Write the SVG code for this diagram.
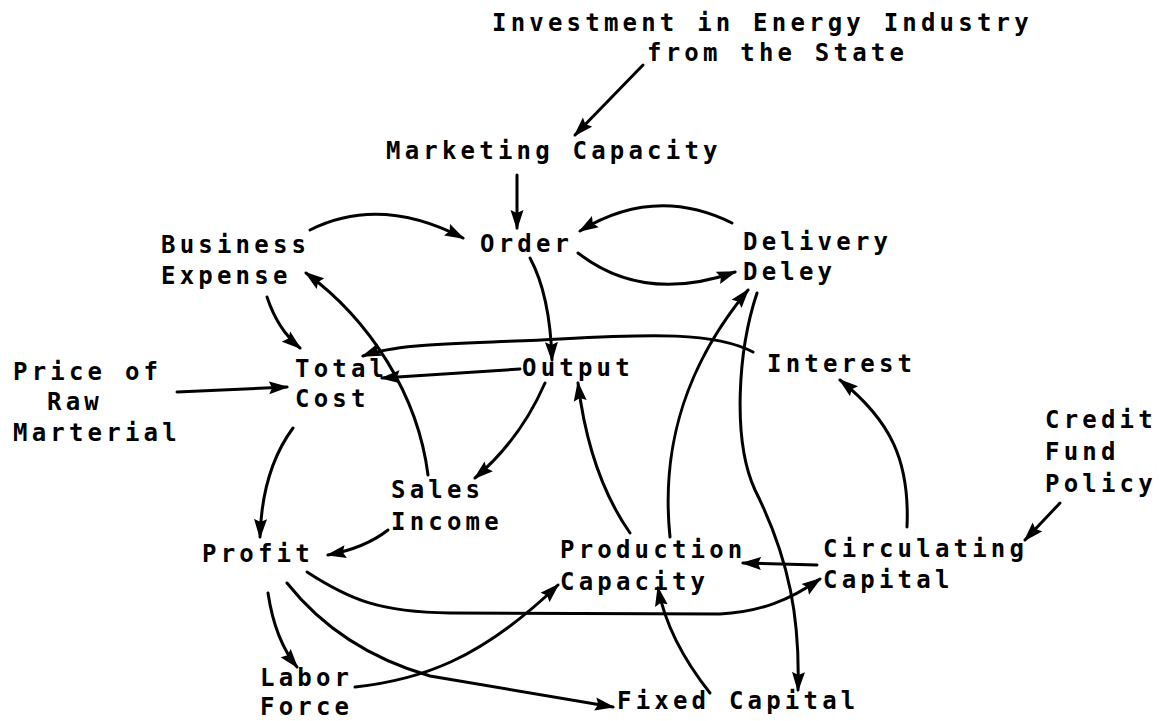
<svg xmlns="http://www.w3.org/2000/svg" width="1163" height="721" viewBox="0 0 1163 721">
<style>
text{font-family:"DejaVu Sans Mono","Liberation Mono",monospace;font-size:24px;font-weight:bold;letter-spacing:4.2px;fill:#000}
.c path{fill:none;stroke:#000;stroke-width:3;stroke-linecap:round;marker-end:url(#ah)}
</style>
<defs>
<marker id="ah" markerUnits="userSpaceOnUse" markerWidth="22" markerHeight="14" refX="18" refY="7" orient="auto">
<path d="M0,0.5 L20,7 L0,13.5 L3,7 Z" fill="#000"/>
</marker>
</defs>
<rect width="1163" height="721" fill="#fff"/>
<g id="investment"><text x="492" y="31">Investment in Energy Industry</text><text x="647" y="61">from the State</text></g>
<g id="marketing"><text x="386" y="159">Marketing Capacity</text></g>
<g id="order"><text x="480" y="252">Order</text></g>
<g id="business"><text x="161" y="253">Business</text><text x="161" y="284">Expense</text></g>
<g id="delivery"><text x="743" y="250">Delivery</text><text x="743" y="280">Deley</text></g>
<g id="total"><text x="295" y="377">Total</text><text x="295" y="407">Cost</text></g>
<g id="output"><text x="522" y="376">Output</text></g>
<g id="interest"><text x="767" y="372">Interest</text></g>
<g id="price"><text x="13" y="380">Price of</text><text x="47" y="410">Raw</text><text x="13" y="441">Marterial</text></g>
<g id="credit"><text x="1045" y="428">Credit</text><text x="1045" y="460">Fund</text><text x="1045" y="492">Policy</text></g>
<g id="sales"><text x="391" y="498">Sales</text><text x="391" y="530">Income</text></g>
<g id="profit"><text x="202" y="562">Profit</text></g>
<g id="production"><text x="560" y="558">Production</text><text x="560" y="590">Capacity</text></g>
<g id="circulating"><text x="823" y="557">Circulating</text><text x="823" y="588">Capital</text></g>
<g id="labor"><text x="260" y="686">Labor</text><text x="260" y="715">Force</text></g>
<g id="fixed"><text x="617" y="709">Fixed Capital</text></g>
<g id="connectors" class="c">
<path d="M643,65 L575,135"/>
<path d="M517,175 L517,228"/>
<path d="M310,230 Q380,195 463,238"/>
<path d="M732,223 Q655,185 580,231"/>
<path d="M578,253 Q644,304 735,272"/>
<path d="M530,258 Q550,295 552,360"/>
<path d="M267,297 Q278,330 300,348"/>
<path d="M428,475 C418,395 370,320 306,273"/>
<path d="M753,352 C715,332 650,334 560,339 S400,342 363,356"/>
<path d="M520,369 L382,378"/>
<path d="M177,392 L287,387"/>
<path d="M293,428 Q262,470 260,537"/>
<path d="M545,383 Q520,440 475,478"/>
<path d="M388,530 Q365,548 328,555"/>
<path d="M307,572 C350,600 380,612 450,613 L720,614 C760,612 790,600 820,579"/>
<path d="M268,593 Q275,640 297,667"/>
<path d="M287,583 Q340,650 430,676 L613,707"/>
<path d="M355,687 C420,680 480,660 558,585"/>
<path d="M817,565 L743,563"/>
<path d="M710,693 Q668,640 658,588"/>
<path d="M630,533 C600,490 585,440 578,383"/>
<path d="M670,537 C660,440 690,360 748,290"/>
<path d="M757,293 C738,350 732,440 755,490 C790,560 800,620 798,690"/>
<path d="M907,527 C910,460 890,420 840,380"/>
<path d="M1060,503 L1025,540"/>
</g>
</svg>
